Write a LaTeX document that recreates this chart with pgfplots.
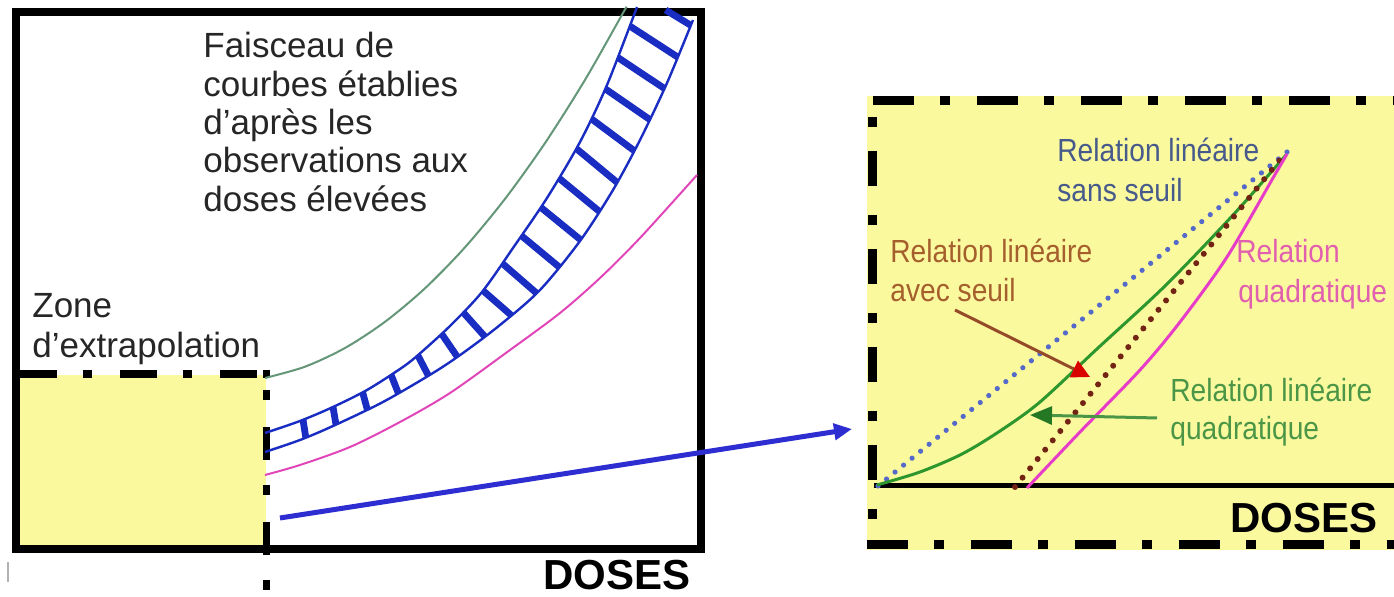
\documentclass[border=0pt]{standalone}
\usepackage{pgfplots}
\pgfplotsset{compat=1.18}
\usepackage{graphicx}
\usepackage{fontspec}
\setmainfont{Liberation Sans}
\usetikzlibrary{arrows.meta}

\definecolor{jaune}{RGB}{251,249,158}
\definecolor{bande}{RGB}{25,45,195}
\definecolor{vertg}{RGB}{100,150,120}
\definecolor{rosec}{RGB}{225,70,185}
\definecolor{fleche}{RGB}{45,45,210}
\definecolor{bleupt}{RGB}{85,105,200}
\definecolor{rougept}{RGB}{115,35,20}
\definecolor{vertc}{RGB}{45,150,45}
\definecolor{magc}{RGB}{230,60,200}
\definecolor{txtbleu}{RGB}{70,90,140}
\definecolor{txtbrun}{RGB}{165,95,45}
\definecolor{txtrose}{RGB}{225,95,175}
\definecolor{txtvert}{RGB}{75,150,70}
\definecolor{flbrun}{RGB}{150,75,40}

\newcommand\gauche{\fontsize{17.5pt}{20pt}\selectfont}
\newcommand\droite{\fontsize{16pt}{19pt}\selectfont}
\newcommand\etroit[1]{\scalebox{0.88}[1]{#1}}

\begin{document}
\begin{tikzpicture}
\begin{axis}[width=697pt, height=298.5pt, scale only axis,
  xmin=0, xmax=1394, ymin=0, ymax=597, y dir=reverse,
  axis lines=none, clip=false, unbounded coords=jump]

% fonds
\addplot[fill=white, draw=none] coordinates {(0,0) (1394,0) (1394,597) (0,597)};
\addplot[fill=jaune, draw=none] coordinates {(18,375) (266,375) (266,549) (18,549)};
\addplot[fill=jaune, draw=none] coordinates {(867,96) (1394,96) (1394,550) (867,550)};

% cadre gauche
\addplot[black, line width=4pt, line join=miter] coordinates {(16,12.5) (701,12.5) (701,549) (16,549)} -- cycle;
\addplot[gray!60, line width=0.8pt] coordinates {(8,562) (8,582)};

% zone d'extrapolation (trait mixte)
\addplot[black, line width=4pt, dash pattern=on 18.5pt off 13pt on 4.5pt off 14pt] coordinates {(20,374.5) (262,374.5)};
\addplot[black, line width=4pt] coordinates {(263,374.5) (270,374.5)};
\addplot[black, line width=3.6pt, dash pattern=on 5pt off 13.5pt on 16.5pt off 12.5pt] coordinates {(266.5,390) (266.5,597)};

% cadre droit (trait mixte)
\addplot[black, line width=4.5pt, dash pattern=on 20.5pt off 13pt on 5pt off 13.5pt] coordinates {(873,101) (1394,101)};
\addplot[black, line width=4.5pt, dash pattern=on 20.5pt off 13pt on 5pt off 13.5pt] coordinates {(867,545) (1394,545)};
\addplot[black, line width=4.5pt, dash pattern=on 17.5pt off 14.5pt on 5pt off 12pt, dash phase=24pt] coordinates {(872,101) (872,548)};

% faisceau de courbes
\addplot[vertg, line width=1pt, smooth] coordinates {
  (265,378) (305,366.7) (345,348) (385,321.8) (425,288.3) (465,247.3)
  (505,198.9) (545,143.1) (585,79.9) (623,13) (626,8)};
\addplot[rosec, line width=1pt, smooth] coordinates {
  (265,475) (300,465) (350,447) (400,422) (450,393) (510,350) (560,313)
  (600,278) (640,238) (697,175)};
\addplot[bande, line width=1.2pt, smooth] coordinates {
  (265,433) (300,421) (333,407) (367,390) (400,369) (417,356) (450,326)
  (482,292) (513,248) (547,198) (580,142) (607,85) (637,7)};
\addplot[bande, line width=1.2pt, smooth] coordinates {
  (265,452) (300,440) (333,426) (383,402) (433,373) (463,353) (500,325)
  (540,290) (580,241) (613,190) (640,140) (667,83) (693,20)};
\addplot[bande, line width=3.4pt] coordinates {
  (303,419.7) (305.8,437.5) (nan,nan)
  (333,407) (336,424.6) (nan,nan)
  (362.6,392.2) (367.4,409.9) (nan,nan)
  (391,374.7) (398.3,393.1) (nan,nan)
  (417.8,355.3) (428.5,375.9) (nan,nan)
  (441.5,333.7) (457.3,356.8) (nan,nan)
  (463,312.2) (484.8,336.5) (nan,nan)
  (483,290.6) (511.2,315.2) (nan,nan)
  (502.2,263.3) (536.5,293.1) (nan,nan)
  (521.4,235.7) (558.9,266.8) (nan,nan)
  (540.7,207.3) (580.7,239.9) (nan,nan)
  (558.8,178) (599.2,211.3) (nan,nan)
  (576.2,148.5) (617.1,182.4) (nan,nan)
  (591.1,118.6) (634.2,150.7) (nan,nan)
  (605.2,88.8) (649.7,119.5) (nan,nan)
  (617.6,57.4) (664.4,88.5) (nan,nan)
  (629.7,26) (677.7,57.1) (nan,nan)
  (665.6,10) (690.8,25.3)};

% fleche de liaison
\addplot[fleche, line width=2.5pt, -{Triangle[length=9pt,width=8pt]}] coordinates {(280,518) (852,429)};

% graphe de droite
\addplot[black, line width=2.5pt] coordinates {(874,485.5) (1394,485.5)};
\addplot[bleupt, line width=2.6pt, line cap=round, dash pattern=on 0pt off 5.5pt] coordinates {(878,486) (1287,152)};
\addplot[vertc, line width=1.5pt, smooth] coordinates {
  (877,485) (920,472) (962,454) (1000,431) (1040,402) (1098,348)
  (1166,285) (1234,214) (1286,155)};
\addplot[rougept, line width=3pt, line cap=round, dash pattern=on 0pt off 6pt] coordinates {(1015,487) (1283,156)};
\addplot[magc, line width=1.5pt, smooth] coordinates {
  (1027,488) (1080,432) (1140,370) (1180,322) (1227,257) (1273,178) (1287,154)};
\addplot[flbrun, line width=1.5pt, -{Triangle[length=9pt,width=9pt,color=red!85!black]}] coordinates {(955,310) (1090,377)};
\addplot[txtvert, line width=1.5pt, -{Triangle[length=11pt,width=9pt,color=vertc!80!black]}] coordinates {(1157,418) (1030,415)};

% textes
\node[anchor=base west, inner sep=0pt, font=\gauche, text=black!85] at (axis cs:203,58) {Faisceau de};
\node[anchor=base west, inner sep=0pt, font=\gauche, text=black!85] at (axis cs:203,97) {courbes établies};
\node[anchor=base west, inner sep=0pt, font=\gauche, text=black!85] at (axis cs:203,135) {d'après les};
\node[anchor=base west, inner sep=0pt, font=\gauche, text=black!85] at (axis cs:203,173) {observations aux};
\node[anchor=base west, inner sep=0pt, font=\gauche, text=black!85] at (axis cs:203,212) {doses élevées};
\node[anchor=base west, inner sep=0pt, font=\gauche, text=black!85] at (axis cs:32,318) {Zone};
\node[anchor=base west, inner sep=0pt, font=\gauche, text=black!85] at (axis cs:32,358) {d'extrapolation};
\node[anchor=base west, inner sep=0pt, font=\fontsize{21pt}{24pt}\selectfont\bfseries] at (axis cs:543,590) {DOSES};
\node[anchor=base west, inner sep=0pt, font=\fontsize{21pt}{24pt}\selectfont\bfseries] at (axis cs:1230,533) {DOSES};

\node[anchor=base west, inner sep=0pt, font=\droite, text=txtbleu] at (axis cs:1057,162) {\etroit{Relation linéaire}};
\node[anchor=base west, inner sep=0pt, font=\droite, text=txtbleu] at (axis cs:1057,202) {\etroit{sans seuil}};
\node[anchor=base west, inner sep=0pt, font=\droite, text=txtbrun] at (axis cs:890,263) {\etroit{Relation linéaire}};
\node[anchor=base west, inner sep=0pt, font=\droite, text=txtbrun] at (axis cs:890,302) {\etroit{avec seuil}};
\node[anchor=base west, inner sep=0pt, font=\droite, text=txtrose] at (axis cs:1236,263) {\etroit{Relation}};
\node[anchor=base west, inner sep=0pt, font=\droite, text=txtrose] at (axis cs:1238,303) {\etroit{quadratique}};
\node[anchor=base west, inner sep=0pt, font=\droite, text=txtvert] at (axis cs:1170,402) {\etroit{Relation linéaire}};
\node[anchor=base west, inner sep=0pt, font=\droite, text=txtvert] at (axis cs:1170,440) {\etroit{quadratique}};
\end{axis}
\pgfresetboundingbox
\path[use as bounding box] (current axis.south west) rectangle (current axis.north east);
\end{tikzpicture}
\end{document}
